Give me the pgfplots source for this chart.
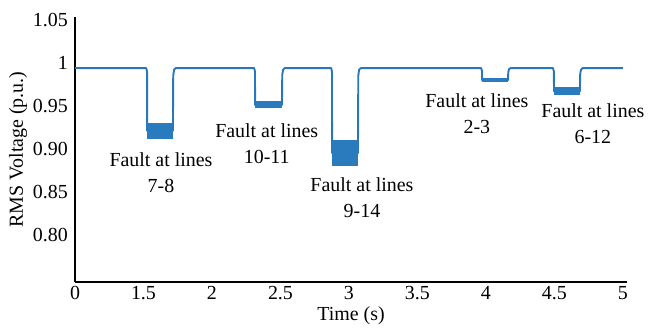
\documentclass[border=0pt]{standalone}
\usepackage{pgfplots}
\pgfplotsset{compat=1.18}
\usepackage{fontspec}
\setmainfont{Liberation Serif}
\definecolor{trace}{RGB}{40,118,188}
\definecolor{band}{RGB}{42,122,190}
\begin{document}
\fontsize{20}{26}\selectfont
\begin{tikzpicture}
\path[use as bounding box] (0,0) rectangle (648bp,334bp);
\begin{axis}[
  at={(75bp,52bp)}, anchor=south west,
  scale only axis, width=552bp, height=265bp,
  x coord trafo/.code={\pgfmathparse{(#1<=1.5)*(#1/1.5)+(#1>1.5)*(1+(#1-1.5)*2)}},
  xmin=0, xmax=5.03, ymin=0.745, ymax=1.0535,
  axis x line*=bottom, axis y line*=left,
  axis line style={-, line width=1.5bp, black},
  major tick length=0pt,
  xtick={0,1.5,2,2.5,3,3.5,4,4.5,5},
  xticklabels={0,1.5,2,2.5,3,3.5,4,4.5,5},
  ytick={0.8,0.85,0.9,0.95,1,1.05},
  yticklabels={0.80,0.85,0.90,0.95,1,1.05},
  xticklabel style={anchor=base, yshift=-17bp, inner sep=0pt},
  yticklabel style={anchor=east, xshift=-7bp, inner sep=0pt},
  tick label style={font=\fontsize{20}{24}\selectfont},
  xlabel={Time (s)}, ylabel={RMS Voltage (p.u.)},
  label style={font=\fontsize{20}{24}\selectfont},
  xlabel style={at={(axis description cs:0.5,-0.128)}, anchor=center},
  ylabel style={at={(axis description cs:-0.103,0.5)}, anchor=center},
  clip=false,
]
% RMS trace
\addplot[trace, line width=1.9bp, line join=round] coordinates {
 (0,0.994) (1.52,0.994) (1.526,0.990) (1.527,0.921) (1.715,0.921) (1.717,0.985) (1.723,0.992) (1.735,0.994)
 (2.308,0.994) (2.314,0.990) (2.315,0.951) (2.511,0.951) (2.513,0.986) (2.519,0.992) (2.531,0.994)
 (2.870,0.994) (2.876,0.990) (2.877,0.895) (3.066,0.895) (3.068,0.985) (3.074,0.992) (3.086,0.994)
 (3.965,0.994) (3.971,0.991) (3.972,0.980) (4.161,0.980) (4.163,0.989) (4.169,0.993) (4.181,0.994)
 (4.490,0.994) (4.496,0.990) (4.497,0.967) (4.686,0.967) (4.688,0.987) (4.694,0.992) (4.706,0.994)
 (5.0,0.994)
};
% fault bands
\addplot[fill=band, draw=none] coordinates {(1.528,0.930) (1.713,0.930) (1.713,0.912) (1.528,0.912)} -- cycle;
\addplot[fill=band, draw=none] coordinates {(2.316,0.956) (2.509,0.956) (2.509,0.947) (2.316,0.947)} -- cycle;
\addplot[fill=band, draw=none] coordinates {(2.878,0.910) (3.064,0.910) (3.064,0.880) (2.878,0.880)} -- cycle;
\addplot[fill=band, draw=none] coordinates {(3.973,0.983) (4.159,0.983) (4.159,0.978) (3.973,0.978)} -- cycle;
\addplot[fill=band, draw=none] coordinates {(4.498,0.972) (4.684,0.972) (4.684,0.963) (4.498,0.963)} -- cycle;
% annotations
\node[align=center, anchor=center, inner sep=0pt] at (axis cs:1.628,0.8727) {Fault at lines\\7-8};
\node[align=center, anchor=center, inner sep=0pt] at (axis cs:2.400,0.9064) {Fault at lines\\10-11};
\node[align=center, anchor=center, inner sep=0pt] at (axis cs:3.095,0.8436) {Fault at lines\\9-14};
\node[align=center, anchor=center, inner sep=0pt] at (axis cs:3.934,0.9407) {Fault at lines\\2-3};
\node[align=center, anchor=center, inner sep=0pt] at (axis cs:4.781,0.9297) {Fault at lines\\6-12};
\end{axis}
\end{tikzpicture}
\end{document}
